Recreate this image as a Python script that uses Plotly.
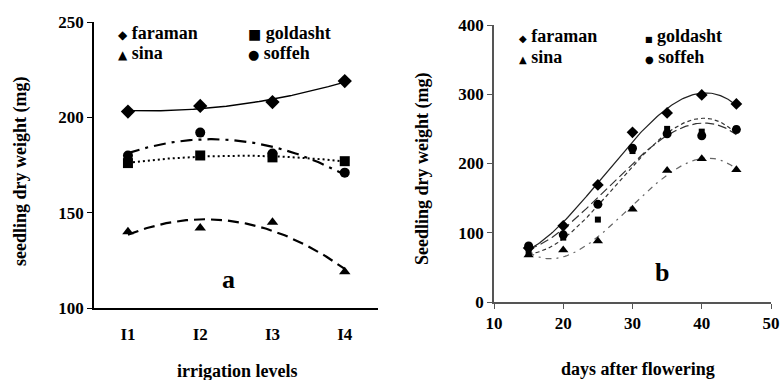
import numpy as np
import plotly.graph_objects as go

# ---- data: panel a (irrigation levels) ----
levels = ["I1", "I2", "I3", "I4"]
a_faraman = [203, 206, 208, 219]
a_goldasht = [176, 180, 179, 177]
a_sina = [140, 142, 145, 119]
a_soffeh = [180, 192, 181, 171]

# ---- data: panel b (days after flowering) ----
days = [15, 20, 25, 30, 35, 40, 45]
b_faraman = [78, 110, 169, 245, 273, 299, 286]
b_goldasht = [72, 93, 119, 218, 250, 246, 250]
b_sina = [68, 75, 88, 134, 190, 207, 191]
b_soffeh = [81, 97, 141, 222, 243, 240, 249]

names = ["faraman", "goldasht", "sina", "soffeh"]
symbols = ["diamond", "square", "triangle-up", "circle"]

W, H = 782, 380
FONT = "Liberation Serif, Times New Roman, serif"

fig = go.Figure()

# panel a
a_x = list(range(1, len(levels) + 1))
a_series = [a_faraman, a_goldasht, a_sina, a_soffeh]
a_dash = ["solid", "2px,3px", "11px,6px", "12px,6px,3px,6px"]
a_width = [1.4, 2.0, 2.2, 2.2]
xs = np.linspace(1, 4, 120)
for ys, sym, dash, lw in zip(a_series, symbols, a_dash, a_width):
    c = np.polyfit(a_x, ys, 2)
    fig.add_trace(go.Scatter(x=xs, y=np.polyval(c, xs), mode="lines",
                             line=dict(color="black", width=lw, dash=dash),
                             xaxis="x", yaxis="y", showlegend=False, hoverinfo="skip"))
for ys, sym in zip(a_series, symbols):
    fig.add_trace(go.Scatter(x=a_x, y=ys, mode="markers",
                             marker=dict(symbol=sym, size=10 if sym != "diamond" else 11, color="black"),
                             xaxis="x", yaxis="y", showlegend=False))

# panel b
b_series = [b_faraman, b_goldasht, b_sina, b_soffeh]
b_dash = ["solid", "4px,3px", "6px,5px,2px,5px", "9px,4px"]
b_color = ["#222222", "#333333", "#666666", "#333333"]
xs2 = np.linspace(15, 45, 150)
for ys, dash, col in zip(b_series, b_dash, b_color):
    c = np.polyfit(days, ys, 3)
    fig.add_trace(go.Scatter(x=xs2, y=np.polyval(c, xs2), mode="lines",
                             line=dict(color=col, width=1.2, dash=dash),
                             xaxis="x2", yaxis="y2", showlegend=False, hoverinfo="skip"))
b_sizes = [9, 6, 9, 9]
for ys, sym, sz in zip(b_series, symbols, b_sizes):
    fig.add_trace(go.Scatter(x=days, y=ys, mode="markers",
                             marker=dict(symbol=sym, size=sz, color="black"),
                             xaxis="x2", yaxis="y2", showlegend=False))

tickfont = dict(family=FONT, size=17, color="black")

fig.update_layout(
    width=W, height=H,
    margin=dict(l=0, r=0, t=0, b=0, autoexpand=False),
    paper_bgcolor="white", plot_bgcolor="white",
    font=dict(family=FONT, color="black"),
    xaxis=dict(domain=[94 / W, 378 / W], range=[0.53, 4.46],
               tickvals=a_x, ticktext=["<b>%s</b>" % t for t in levels],
               tickfont=tickfont, showgrid=False, zeroline=False,
               showline=True, linecolor="black", linewidth=1.5, ticks="",
               ticklabelstandoff=10, anchor="y", automargin=False),
    yaxis=dict(domain=[1 - 308 / H, 1 - 22 / H], range=[100, 250], dtick=50,
               tickfont=tickfont, showgrid=False, zeroline=False,
               showline=True, linecolor="black", linewidth=1.5,
               ticks="outside", ticklen=5, tickcolor="black",
               tickprefix="<b>", ticksuffix="</b>", anchor="x", automargin=False),
    xaxis2=dict(domain=[494 / W, 771 / W], range=[10, 50], dtick=10,
                tickfont=tickfont, showgrid=False, zeroline=False,
                showline=True, linecolor="#555555", linewidth=1.5,
                ticks="outside", ticklen=5, tickcolor="#555555",
                tickprefix="<b>", ticksuffix="</b>", anchor="y2", automargin=False),
    yaxis2=dict(domain=[1 - 302 / H, 1 - 25 / H], range=[0, 400], dtick=100,
                tickfont=tickfont, showgrid=False, zeroline=False,
                showline=True, linecolor="#555555", linewidth=1.5,
                ticks="outside", ticklen=5, tickcolor="#555555",
                tickprefix="<b>", ticksuffix="</b>", anchor="x2", automargin=False),
)

ann = []
def txt(x, y, s, size, xanchor="center", yanchor="middle", angle=0):
    ann.append(dict(x=x / W, y=1 - y / H, xref="paper", yref="paper", text=s,
                    showarrow=False, xanchor=xanchor, yanchor=yanchor, textangle=angle,
                    font=dict(family=FONT, size=size, color="black")))

# axis titles
txt(237, 371, "<b>irrigation levels</b>", 18)
txt(20, 172, "<b>seedling dry weight (mg)</b>", 18, angle=-90)
txt(638, 369, "<b>days after flowering</b>", 18)
txt(422, 168, "<b>Seedling dry weight (mg)</b>", 18, angle=-90)
# panel letters
txt(228, 279, "<b>a</b>", 26)
txt(662, 272, "<b>b</b>", 26)

# legends (text with symbol glyphs)
glyph = {"faraman": "◆", "goldasht": "■", "sina": "▲", "soffeh": "●"}
def leg(x, y, name, gsize):
    s = '<span style="font-family:DejaVu Sans;font-size:%dpx">%s</span> <b>%s</b>' % (gsize, glyph[name], name)
    txt(x, y, s, 18, xanchor="left")

leg(116, 33, "faraman", 12)
leg(246, 33, "goldasht", 14)
leg(116, 53, "sina", 12)
leg(246, 53, "soffeh", 13)
leg(517, 36, "faraman", 10)
leg(643, 36, "goldasht", 8)
leg(517, 57, "sina", 10)
leg(643, 57, "soffeh", 10)

fig.update_layout(annotations=ann)
fig.write_html("out.html")
